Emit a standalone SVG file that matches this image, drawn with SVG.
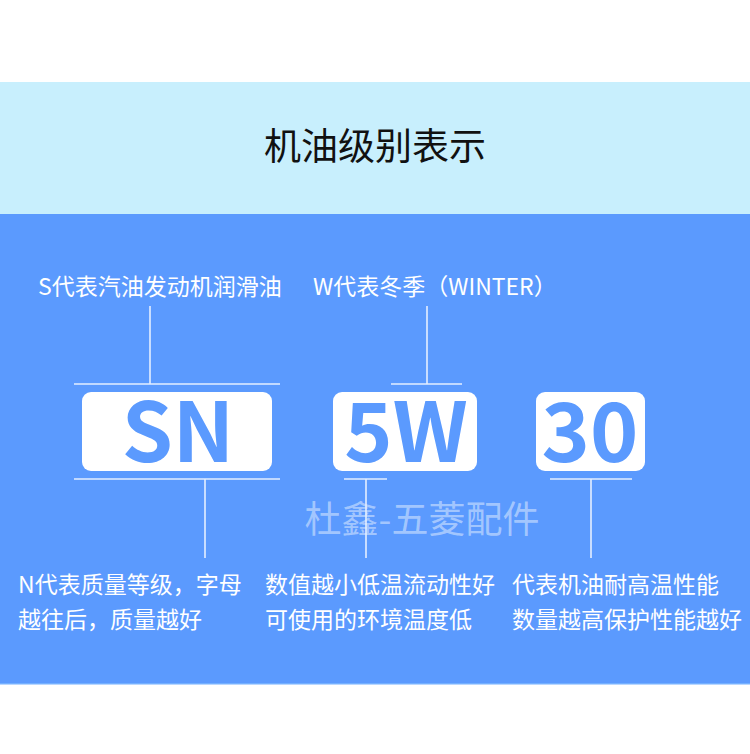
<svg xmlns="http://www.w3.org/2000/svg" width="750" height="754" viewBox="0 0 750 754">
<style>
.cjk{font-family:"Noto Sans CJK SC","Noto Sans",sans-serif;}
.title{font-size:37px;fill:#111;}
.lbl{font-size:23px;fill:#ffffff;}
.code{font-size:82px;font-weight:700;fill:#5B9AFE;text-anchor:middle;}
.box{fill:#ffffff;}
.ln{stroke:#e4eeff;stroke-width:1.6;fill:none;}
.wm{font-size:37px;fill:#ffffff;fill-opacity:0.45;text-anchor:middle;}
</style>
<rect x="0" y="0" width="750" height="754" fill="#ffffff"/>
<rect x="0" y="82" width="750" height="132" fill="#C8EFFD"/>
<rect x="0" y="214" width="750" height="470" fill="#5B9AFE"/>
<rect x="0" y="683" width="750" height="1.5" fill="#74B0FF"/>
<g id="title"><text class="cjk title" x="375" y="160" text-anchor="middle">机油级别表示</text></g>
<g id="watermark"><text class="cjk wm" x="422" y="533">杜鑫-五菱配件</text></g>
<g id="connectors">
<path class="ln" d="M150 306V384M74 384H280"/>
<path class="ln" d="M427 306V384M391 384H462"/>
<path class="ln" d="M74 479H280M205 479V558"/>
<path class="ln" d="M344 479H387M366 479V558"/>
<path class="ln" d="M550 479H632M591 479V558"/>
</g>
<g id="label-s"><text class="cjk lbl" x="38" y="295">S代表汽油发动机润滑油</text></g>
<g id="label-w"><text class="cjk lbl" x="313" y="295">W代表冬季（WINTER）</text></g>
<g id="node-sn"><rect class="box" x="82" y="392" width="190" height="79" rx="9"/><text class="cjk code" x="178" y="462">SN</text></g>
<g id="node-5w"><rect class="box" x="333" y="392" width="144" height="79" rx="9"/><text class="cjk code" x="406" y="462">5W</text></g>
<g id="node-30"><rect class="box" x="536" y="392" width="109" height="79" rx="9"/><text class="cjk code" x="590" y="462">30</text></g>
<g id="desc-n"><text class="cjk lbl" x="18" y="593">N代表质量等级，字母</text><text class="cjk lbl" x="18" y="628">越往后，质量越好</text></g>
<g id="desc-5w"><text class="cjk lbl" x="265" y="593">数值越小低温流动性好</text><text class="cjk lbl" x="265" y="628">可使用的环境温度低</text></g>
<g id="desc-30"><text class="cjk lbl" x="512" y="593">代表机油耐高温性能</text><text class="cjk lbl" x="512" y="628">数量越高保护性能越好</text></g>
</svg>
